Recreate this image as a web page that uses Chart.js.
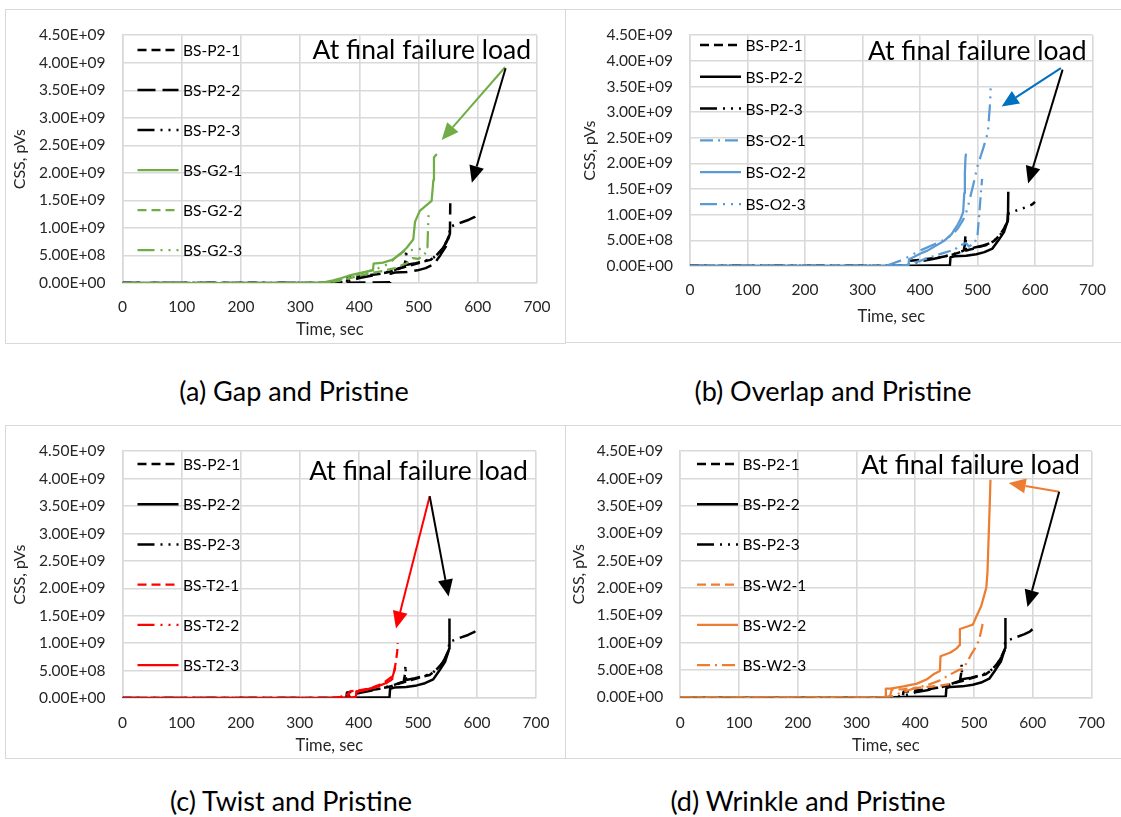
<!DOCTYPE html>
<html>
<head>
<meta charset="utf-8">
<title>CSS versus time</title>
<script src="https://cdn.jsdelivr.net/npm/chart.js@4.4.1/dist/chart.umd.min.js"></script>
<style>
  html, body { margin: 0; padding: 0; background: #fff; }
  body { width: 1121px; height: 817px; position: relative; overflow: hidden; font-family: Lato, sans-serif; }
  .frame { position: absolute; border: 1px solid #d9d9d9; box-sizing: border-box; }
  canvas { position: absolute; }
  .cap { position: absolute; font-size: 27px; color: #000; transform: translate(-50%, -50%); white-space: nowrap; }
</style>
</head>
<body>
<div class="frame" style="left:5px;top:9px;width:561px;height:335px"></div>
<div class="frame" style="left:565px;top:9px;width:570px;height:334px"></div>
<div class="frame" style="left:5px;top:425px;width:561px;height:334px"></div>
<div class="frame" style="left:565px;top:425px;width:570px;height:334px"></div>

<canvas id="pa" width="560" height="334" style="left:5px;top:9px"></canvas>
<canvas id="pb" width="556" height="333" style="left:565px;top:9px"></canvas>
<canvas id="pc" width="560" height="333" style="left:5px;top:425px"></canvas>
<canvas id="pd" width="556" height="333" style="left:565px;top:425px"></canvas>

<div class="cap" style="left:294px;top:390px">(a) Gap and Pristine</div>
<div class="cap" style="left:833px;top:390px">(b) Overlap and Pristine</div>
<div class="cap" style="left:291px;top:800px">(c) Twist and Pristine</div>
<div class="cap" style="left:808px;top:800px">(d) Wrinkle and Pristine</div>

<script>
// ---- axis ticks ----
const TIME_TICKS = [0, 100, 200, 300, 400, 500, 600, 700];
const CSS_TICKS = [0, 0.5e9, 1.0e9, 1.5e9, 2.0e9, 2.5e9, 3.0e9, 3.5e9, 4.0e9, 4.5e9];

// ---- pristine specimens (time in s, CSS in pVs) ----
const P2_1_T = [0, 376, 379, 380, 400, 430, 450, 470, 490, 505, 520, 530, 540, 547, 552];
const P2_1_V = [0, 0, 0.02e9, 0.10e9, 0.12e9, 0.16e9, 0.20e9, 0.27e9, 0.33e9, 0.38e9, 0.42e9, 0.50e9, 0.62e9, 0.75e9, 0.87e9];

const P2_2_T = [0, 360, 380, 420, 452, 453, 460, 480, 498, 512, 526, 537, 546, 551, 553, 553.5];
const P2_2_V = [0, 0, 0.005e9, 0.01e9, 0.015e9, 0.17e9, 0.19e9, 0.20e9, 0.23e9, 0.27e9, 0.34e9, 0.51e9, 0.66e9, 0.83e9, 0.90e9, 1.45e9];

const P2_3_T = [0, 360, 380, 400, 420, 440, 460, 476, 478, 479, 480, 495, 510, 525, 538, 547, 552, 553, 560, 572, 585, 595, 600];
const P2_3_V = [0, 0, 0.03e9, 0.09e9, 0.13e9, 0.18e9, 0.24e9, 0.30e9, 0.42e9, 0.60e9, 0.33e9, 0.36e9, 0.40e9, 0.46e9, 0.58e9, 0.74e9, 0.86e9, 1.02e9, 1.05e9, 1.10e9, 1.15e9, 1.20e9, 1.25e9];

// ---- gap specimens ----
const G2_1_T = [0, 300, 340, 356, 370, 384, 400, 415, 423, 424, 440, 455, 469, 480, 491, 494, 502, 512, 522, 525, 526, 529, 531];
const G2_1_V = [0, 0, 0.01e9, 0.05e9, 0.09e9, 0.14e9, 0.18e9, 0.21e9, 0.23e9, 0.35e9, 0.37e9, 0.42e9, 0.52e9, 0.64e9, 0.79e9, 1.11e9, 1.31e9, 1.40e9, 1.49e9, 1.87e9, 2.28e9, 2.32e9, 2.34e9];

const G2_2_T = [0, 340, 360, 380, 400, 420, 440, 460, 480, 490, 500, 508, 512];
const G2_2_V = [0, 0, 0.03e9, 0.08e9, 0.13e9, 0.18e9, 0.22e9, 0.27e9, 0.36e9, 0.45e9, 0.44e9, 0.50e9, 0.55e9];

const G2_3_T = [0, 330, 350, 370, 390, 410, 430, 450, 465, 475, 490, 505, 515, 516, 517];
const G2_3_V = [0, 0, 0.02e9, 0.07e9, 0.14e9, 0.20e9, 0.26e9, 0.35e9, 0.50e9, 0.58e9, 0.60e9, 0.62e9, 0.65e9, 1.00e9, 1.28e9];

// ---- overlap specimens ----
const O2_1_T = [0, 360, 380, 400, 420, 440, 460, 470, 480, 485, 495, 500, 503, 506, 508];
const O2_1_V = [0, 0, 0.03e9, 0.10e9, 0.18e9, 0.25e9, 0.32e9, 0.40e9, 0.45e9, 0.38e9, 0.45e9, 0.60e9, 1.00e9, 1.45e9, 1.70e9];

const O2_2_T = [0, 340, 370, 380, 381, 390, 400, 413, 425, 442, 455, 465, 470, 475, 477, 478, 479, 480];
const O2_2_V = [0, 0, 0.01e9, 0.02e9, 0.13e9, 0.18e9, 0.24e9, 0.30e9, 0.38e9, 0.49e9, 0.62e9, 0.80e9, 0.90e9, 1.05e9, 1.42e9, 1.80e9, 2.10e9, 2.19e9];

const O2_3_T = [0, 340, 365, 380, 400, 420, 440, 455, 465, 475, 482, 493, 500, 510, 518, 522, 523];
const O2_3_V = [0, 0, 0.10e9, 0.18e9, 0.30e9, 0.40e9, 0.50e9, 0.60e9, 0.72e9, 0.90e9, 1.10e9, 1.60e9, 1.95e9, 2.30e9, 2.60e9, 3.20e9, 3.54e9];

// ---- twist specimens ----
const T2_1_T = [0, 350, 370, 380, 385, 400, 420, 440, 455, 460, 463, 465, 466];
const T2_1_V = [0, 0, 0.02e9, 0.06e9, 0.12e9, 0.14e9, 0.18e9, 0.26e9, 0.38e9, 0.50e9, 0.67e9, 0.85e9, 1.00e9];

const T2_2_T = [0, 360, 380, 400, 420, 440, 455, 458, 462];
const T2_2_V = [0, 0, 0.05e9, 0.12e9, 0.17e9, 0.24e9, 0.31e9, 0.42e9, 0.56e9];

const T2_3_T = [0, 370, 390, 395, 396, 410, 430, 445, 455, 458];
const T2_3_V = [0, 0, 0.01e9, 0.02e9, 0.12e9, 0.15e9, 0.20e9, 0.27e9, 0.33e9, 0.36e9];

// ---- wrinkle specimens ----
const W2_1_T = [0, 356, 358, 360, 380, 400, 420, 440, 458];
const W2_1_V = [0, 0, 0.06e9, 0.14e9, 0.15e9, 0.17e9, 0.19e9, 0.21e9, 0.24e9];

const W2_2_T = [0, 340, 349, 350, 358, 380, 403, 420, 431, 442, 443, 460, 470, 475, 476, 490, 498, 505, 512, 517, 521, 523, 525, 527, 528];
const W2_2_V = [0, 0, 0.01e9, 0.16e9, 0.16e9, 0.20e9, 0.25e9, 0.33e9, 0.42e9, 0.48e9, 0.75e9, 0.82e9, 0.89e9, 0.95e9, 1.25e9, 1.30e9, 1.33e9, 1.50e9, 1.66e9, 1.85e9, 2.01e9, 2.30e9, 2.95e9, 3.60e9, 3.98e9];

const W2_3_T = [0, 340, 360, 380, 400, 420, 440, 460, 474, 482, 495, 505, 509, 514, 515];
const W2_3_V = [0, 0, 0.02e9, 0.10e9, 0.17e9, 0.22e9, 0.30e9, 0.42e9, 0.50e9, 0.52e9, 0.78e9, 0.95e9, 1.07e9, 1.30e9, 1.42e9];

// ---- styling ----
const BLACK = '#000000';
const GREEN = '#70AD47';
const BLUE = '#5B9BD5';
const BLUE_ARROW = '#0070C0';
const RED = '#FF0000';
const ORANGE = '#ED7D31';
const GRID = '#d9d9d9';
const TEXT = '#262626';
const DASH = [9, 5];
const LONG_DASH = [18, 7];
const DASH_DOT = [13, 5, 2, 5];
const DASH_DOT_DOT = [17, 6, 2, 6, 2, 6];
const NOTE_TEXT = 'At final failure load';

Chart.defaults.font.family = 'Lato, sans-serif';
Chart.defaults.color = TEXT;

function points(ts, vs) {
  return ts.map((t, i) => ({ x: t, y: vs[i] }));
}

function series(label, ts, vs, color, dash, width, order) {
  return {
    label: label,
    data: points(ts, vs),
    borderColor: color,
    backgroundColor: color,
    borderDash: dash,
    borderWidth: width,
    borderCapStyle: 'butt',
    borderJoinStyle: 'round',
    pointRadius: 0,
    pointHoverRadius: 0,
    tension: 0,
    fill: false,
    order: order
  };
}

function pristine(p22Dash) {
  return [
    series('BS-P2-1', P2_1_T, P2_1_V, BLACK, DASH, 2.5, 1),
    series('BS-P2-2', P2_2_T, P2_2_V, BLACK, p22Dash, 2.5, 1),
    series('BS-P2-3', P2_3_T, P2_3_V, BLACK, DASH_DOT_DOT, 2.5, 1)
  ];
}

function sci(v) {
  if (v === 0) return '0.00E+00';
  const e = Math.floor(Math.log10(Math.abs(v)) + 1e-9);
  const m = v / Math.pow(10, e);
  return m.toFixed(2) + 'E' + (e < 0 ? '-' : '+') + String(Math.abs(e)).padStart(2, '0');
}

function drawArrow(ctx, x0, y0, x1, y1, color) {
  const ang = Math.atan2(y1 - y0, x1 - x0);
  const L = 17, W = 7.5;
  const bx = x1 - L * Math.cos(ang), by = y1 - L * Math.sin(ang);
  ctx.save();
  ctx.strokeStyle = color;
  ctx.lineWidth = 2;
  ctx.setLineDash([]);
  ctx.beginPath();
  ctx.moveTo(x0, y0);
  ctx.lineTo(bx, by);
  ctx.stroke();
  ctx.fillStyle = color;
  ctx.beginPath();
  ctx.moveTo(x1, y1);
  ctx.lineTo(bx + W * Math.sin(ang), by - W * Math.cos(ang));
  ctx.lineTo(bx - W * Math.sin(ang), by + W * Math.cos(ang));
  ctx.closePath();
  ctx.fill();
  ctx.restore();
}

// Draws the in-plot legend, the note and the arrows of one panel.
function notesPlugin(cfg) {
  return {
    id: 'panelNotes',
    afterDraw(chart) {
      const ctx = chart.ctx;
      const xs = chart.scales.x, ys = chart.scales.y;
      cfg.arrows.forEach(a => {
        drawArrow(ctx,
          xs.getPixelForValue(a.from[0]), ys.getPixelForValue(a.from[1]),
          xs.getPixelForValue(a.to[0]), ys.getPixelForValue(a.to[1]), a.color);
      });
      ctx.save();
      ctx.fillStyle = '#000';
      ctx.font = '26.5px Lato, sans-serif';
      ctx.textAlign = 'right';
      ctx.textBaseline = 'middle';
      ctx.fillText(NOTE_TEXT, xs.getPixelForValue(cfg.note[0]), ys.getPixelForValue(cfg.note[1]));
      const lg = cfg.legend;
      ctx.font = '15.5px Lato, sans-serif';
      ctx.textAlign = 'left';
      chart.data.datasets.forEach((ds, i) => {
        const y = lg.y + i * lg.gap;
        ctx.strokeStyle = ds.borderColor;
        ctx.lineWidth = ds.borderWidth;
        ctx.lineCap = 'butt';
        ctx.setLineDash(ds.borderDash || []);
        ctx.beginPath();
        ctx.moveTo(lg.x, y);
        ctx.lineTo(lg.x + lg.len, y);
        ctx.stroke();
        ctx.setLineDash([]);
        ctx.fillStyle = '#000';
        ctx.fillText(ds.label, lg.x + lg.len + 4.5, y + 1);
      });
      ctx.restore();
    }
  };
}

function makePanel(cfg) {
  const canvas = document.getElementById(cfg.id);
  const W = canvas.width, H = canvas.height, A = cfg.area;
  new Chart(canvas, {
    type: 'line',
    data: { datasets: cfg.datasets },
    options: {
      responsive: false,
      animation: false,
      devicePixelRatio: 1,
      layout: { padding: { left: 0, top: A.t, right: W - A.r, bottom: 0 } },
      plugins: { legend: { display: false }, tooltip: { enabled: false } },
      scales: {
        x: {
          type: 'linear',
          min: TIME_TICKS[0],
          max: TIME_TICKS[TIME_TICKS.length - 1],
          afterBuildTicks: s => { s.ticks = TIME_TICKS.map(v => ({ value: v })); },
          afterFit: s => { s.height = H - A.b; },
          grid: { color: GRID, lineWidth: 1.6, drawTicks: false },
          border: { color: GRID, width: 1.6 },
          ticks: { font: { size: 15.5 }, color: TEXT, padding: cfg.xTickPad, maxRotation: 0 },
          title: { display: true, text: 'Time, sec', font: { size: 16.5 }, color: TEXT,
                   padding: { top: 0, bottom: cfg.xTitlePad } }
        },
        y: {
          type: 'linear',
          min: CSS_TICKS[0],
          max: CSS_TICKS[CSS_TICKS.length - 1],
          afterBuildTicks: s => { s.ticks = CSS_TICKS.map(v => ({ value: v })); },
          afterFit: s => { s.width = A.l; },
          grid: { color: GRID, lineWidth: 1.6, drawTicks: false },
          border: { color: GRID, width: 1.6 },
          ticks: { font: { size: 15.5 }, color: TEXT, padding: 17, callback: v => sci(v) },
          title: { display: true, text: 'CSS, pVs', font: { size: 16 }, color: TEXT,
                   padding: { top: cfg.yTitlePad, bottom: 0 } }
        }
      }
    },
    plugins: [notesPlugin(cfg)]
  });
}

makePanel({
  id: 'pa', area: { l: 117.5, r: 532, t: 18, b: 274 },
  xTickPad: 14.5, xTitlePad: 3, yTitlePad: 5.5,
  legend: { x: 132.5, y: 41, gap: 40, len: 41 },
  note: [690, 4.22e9],
  arrows: [
    { from: [646, 3.92e9], to: [539, 2.60e9], color: GREEN },
    { from: [647, 3.90e9], to: [590, 1.82e9], color: BLACK }
  ],
  datasets: pristine(LONG_DASH).concat([
    series('BS-G2-1', G2_1_T, G2_1_V, GREEN, [], 2.25, 0),
    series('BS-G2-2', G2_2_T, G2_2_V, GREEN, DASH, 2.25, 0),
    series('BS-G2-3', G2_3_T, G2_3_V, GREEN, DASH_DOT_DOT, 2.25, 0)
  ])
});

makePanel({
  id: 'pb', area: { l: 125, r: 531.7, t: 17, b: 257 },
  xTickPad: 15, xTitlePad: 15, yTitlePad: 15,
  legend: { x: 135, y: 36, gap: 31.8, len: 41 },
  note: [689.5, 4.19e9],
  arrows: [
    { from: [645, 3.86e9], to: [542, 3.11e9], color: BLUE_ARROW },
    { from: [648, 3.83e9], to: [588, 1.61e9], color: BLACK }
  ],
  datasets: pristine([]).concat([
    series('BS-O2-1', O2_1_T, O2_1_V, BLUE, DASH_DOT, 2.25, 0),
    series('BS-O2-2', O2_2_T, O2_2_V, BLUE, [], 2.25, 0),
    series('BS-O2-3', O2_3_T, O2_3_V, BLUE, DASH_DOT_DOT, 2.25, 0)
  ])
});

makePanel({
  id: 'pc', area: { l: 117.5, r: 532, t: 17.3, b: 273 },
  xTickPad: 15.5, xTitlePad: 2.3, yTitlePad: 5.5,
  legend: { x: 132.5, y: 39, gap: 40.2, len: 41 },
  note: [686, 4.13e9],
  arrows: [
    { from: [520, 3.68e9], to: [463, 1.27e9], color: RED },
    { from: [520, 3.68e9], to: [552, 1.85e9], color: BLACK }
  ],
  datasets: pristine([]).concat([
    series('BS-T2-1', T2_1_T, T2_1_V, RED, DASH, 2.25, 0),
    series('BS-T2-2', T2_2_T, T2_2_V, RED, DASH_DOT_DOT, 2.25, 0),
    series('BS-T2-3', T2_3_T, T2_3_V, RED, [], 2.25, 0)
  ])
});

makePanel({
  id: 'pd', area: { l: 115.2, r: 531.7, t: 17.3, b: 272.3 },
  xTickPad: 16, xTitlePad: 2.3, yTitlePad: 4,
  legend: { x: 132, y: 39, gap: 40.2, len: 41 },
  note: [680, 4.25e9],
  arrows: [
    { from: [645, 3.76e9], to: [559, 3.92e9], color: ORANGE },
    { from: [645, 3.76e9], to: [591, 1.65e9], color: BLACK }
  ],
  datasets: pristine([]).concat([
    series('BS-W2-1', W2_1_T, W2_1_V, ORANGE, DASH, 2.25, 0),
    series('BS-W2-2', W2_2_T, W2_2_V, ORANGE, [], 2.25, 0),
    series('BS-W2-3', W2_3_T, W2_3_V, ORANGE, DASH_DOT, 2.25, 0)
  ])
});
</script>
</body>
</html>
